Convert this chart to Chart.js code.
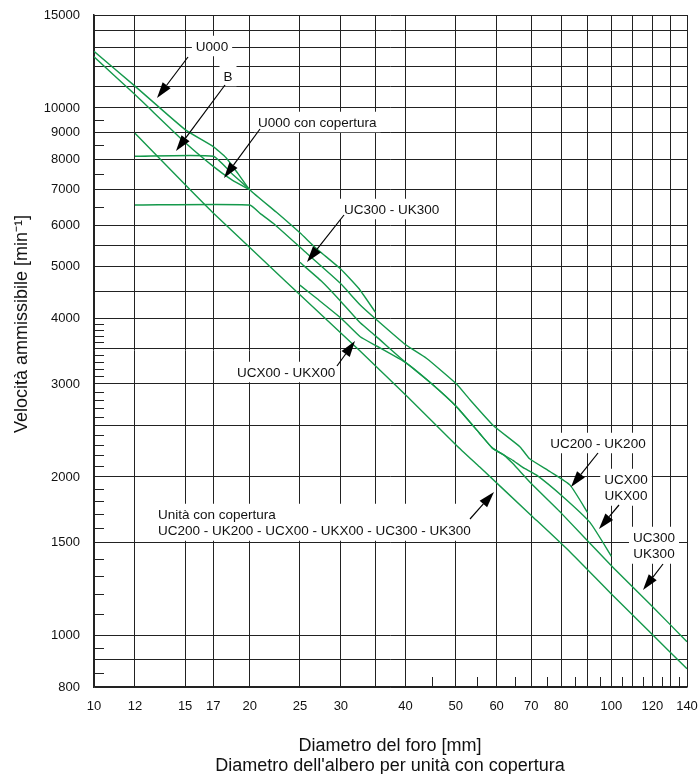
<!DOCTYPE html>
<html><head><meta charset="utf-8">
<script src="https://cdn.jsdelivr.net/npm/chart.js@4.4.0/dist/chart.umd.min.js"></script>
<style>html,body{margin:0;padding:0;background:#fff}</style>
</head><body>
<canvas id="c" width="699" height="774"></canvas>
<script>
// ---- axis ticks ----
const xLabeled = [10,12,15,17,20,25,30,40,50,60,70,80,100,120,140];
const xGrid = [10,12,15,17,20,25,30,35,40,50,60,70,80,90,100,110,120,130,140];
const xMinor = [45,55,65,75,85,95,105,115,125,135];
const yLabeled = [800,1000,1500,2000,3000,4000,5000,6000,7000,8000,9000,10000,15000];
const yGrid = [800,900,1000,1500,2000,2500,3000,3500,4000,4500,5000,5500,6000,7000,8000,9000,10000,11000,12000,13000,14000,15000];
const yMinor = [850,950,1100,1200,1300,1400,1600,1700,1800,1900,2100,2200,2300,2400,2600,2700,2800,2900,3100,3200,3300,3400,3600,3700,3800,3900,6500,7500,8500,9500];

// ---- series (diameter mm, speed min^-1) ----
const u000X = [10,12,15,17,18,19,20,22.5,25,27,30,32.5,35];
const u000Y = [12800,11000,9100,8450,8050,7500,7000,6350,5800,5400,4950,4550,4100];
const bX = [10,12,15,17,18.5,20];
const bY = [12500,10600,8600,7750,7300,7000];
const u000CopX = [12,17,18.5,20];
const u000CopY = [8100,8100,7500,7000];
const uc200X = [12,20,21,22.2,25.8,29.9,32.7,35.2,40.1,43.9,50.2,53.3,59.2,66.6,69.4,76.2,83.2,90];
const uc200Y = [6550,6550,6300,6047,5300,4658,4234,3967,3555,3356,3000,2800,2500,2280,2168,2046,1930,1711];
const uc300X = [25,27.5,30,32.7,35,40.1,45,50.2,55.6,58.9,62,64.5,70,80,100,120,140];
const uc300Y = [5100,4700,4300,3917,3700,3290,3000,2717,2420,2268,2200,2120,1943,1708,1357,1136,975];
const ucxX = [25,27,30,32.7,35,40.1,45,50.2,55.6,58.9,62,64.5,67.4,71.7,80.6,90.9,100];
const ucxY = [4618,4350,4000,3686,3550,3290,3000,2717,2420,2268,2200,2150,2085,2016,1835,1640,1415];
const covX = [12,17,32.6,40.4,50.2,55.6,70,83.3,100,120,140];
const covY = [8955,6325,3470,2835,2295,2090,1691,1440,1200,1006,866];

const green = '#14994b';
function pts(xs, ys){ return xs.map((x,i)=>({x:x, y:ys[i]})); }
function ds(label, xs, ys){
  return {label, data: pts(xs,ys), showLine:true, borderColor:green, borderWidth:1.4,
          pointRadius:0, tension:0.15, fill:false};
}

// ---- annotations (pixel positions on the 699x774 page) ----
const FONT = '13.5px "Liberation Sans", Arial, sans-serif';
const labels = [
  {lines:['U000'], x:212, y:47, align:'center'},
  {lines:['B'], x:228, y:77, align:'center'},
  {lines:['U000 con copertura'], x:258, y:123, align:'left'},
  {lines:['UC300 - UK300'], x:344, y:210, align:'left'},
  {lines:['UCX00 - UKX00'], x:237, y:373, align:'left'},
  {lines:['Unità con copertura','UC200 - UK200 - UCX00 - UKX00 - UC300 - UK300'], x:158, y:515, align:'left'},
  {lines:['UC200 - UK200'], x:598, y:444, align:'center'},
  {lines:['UCX00','UKX00'], x:626, y:480, align:'center'},
  {lines:['UC300','UK300'], x:654, y:538, align:'center'}
];
const arrows = [
  [188,57,157,98],[225,85,176,151],[260,129,224,178],[344,215,307,262],
  [337,366,355,341],[470,519,494,492],[598,453,571,487],[619,505,599,529],[663,564,643,590]
];

const overlay = {
  id:'overlay',
  afterDatasetsDraw(chart){
    const ctx = chart.ctx, xs = chart.scales.x, ys = chart.scales.y, a = chart.chartArea;
    ctx.save();
    // minor ticks
    ctx.strokeStyle = '#222'; ctx.lineWidth = 1;
    yMinor.forEach(v=>{ const p = Math.round(ys.getPixelForValue(v))+0.5;
      ctx.beginPath(); ctx.moveTo(a.left, p); ctx.lineTo(a.left+10, p); ctx.stroke(); });
    xMinor.forEach(v=>{ const p = Math.round(xs.getPixelForValue(v))+0.5;
      ctx.beginPath(); ctx.moveTo(p, a.bottom); ctx.lineTo(p, a.bottom-10); ctx.stroke(); });
    // labels with white background
    ctx.font = FONT; ctx.textBaseline = 'middle';
    labels.forEach(l=>{
      const w = Math.max(...l.lines.map(t=>ctx.measureText(t).width));
      const lh = 16.5, h = lh*l.lines.length;
      const left = l.align==='center' ? l.x - w/2 : l.x;
      ctx.fillStyle = '#fff';
      ctx.fillRect(left-4, l.y - lh/2 - 3, w+8, h+4);
      ctx.fillStyle = '#111';
      ctx.textAlign = 'left';
      l.lines.forEach((t,i)=>{
        const tw = ctx.measureText(t).width;
        const tx = l.align==='center' ? l.x - tw/2 : l.x;
        ctx.fillText(t, tx, l.y + i*lh);
      });
    });
    // arrows
    ctx.strokeStyle = '#000'; ctx.fillStyle = '#000'; ctx.lineWidth = 1.2;
    arrows.forEach(([x1,y1,x2,y2])=>{
      const ang = Math.atan2(y2-y1, x2-x1), L = 16, W = 5;
      const bx = x2 - L*Math.cos(ang), by = y2 - L*Math.sin(ang);
      ctx.beginPath(); ctx.moveTo(x1,y1); ctx.lineTo(bx,by); ctx.stroke();
      ctx.beginPath(); ctx.moveTo(x2,y2);
      ctx.lineTo(bx + W*Math.sin(ang), by - W*Math.cos(ang));
      ctx.lineTo(bx - W*Math.sin(ang), by + W*Math.cos(ang));
      ctx.closePath(); ctx.fill();
    });
    ctx.restore();
  },
  afterDraw(chart){
    const ctx = chart.ctx;
    ctx.save();
    ctx.fillStyle = '#111';
    ctx.font = '18px "Liberation Sans", Arial, sans-serif';
    ctx.textAlign = 'center'; ctx.textBaseline = 'middle';
    ctx.fillText('Diametro del foro [mm]', 390, 746);
    ctx.fillText("Diametro dell'albero per unità con copertura", 390, 766);
    ctx.translate(22, 324); ctx.rotate(-Math.PI/2);
    ctx.fillText('Velocità ammissibile [min⁻¹]', 0, 0);
    ctx.restore();
  }
};

new Chart(document.getElementById('c'), {
  type:'scatter',
  data:{ datasets:[
    ds('U000', u000X, u000Y),
    ds('B', bX, bY),
    ds('U000 con copertura', u000CopX, u000CopY),
    ds('UC200 - UK200', uc200X, uc200Y),
    ds('UC300 - UK300', uc300X, uc300Y),
    ds('UCX00 - UKX00', ucxX, ucxY),
    ds('Unità con copertura', covX, covY)
  ]},
  options:{
    responsive:false, animation:false, devicePixelRatio:1,
    layout:{padding:{left:0, right:12, top:15, bottom:0}},
    plugins:{legend:{display:false}, tooltip:{enabled:false}},
    scales:{
      x:{ type:'logarithmic', min:10, max:140,
          afterBuildTicks: s => { s.ticks = xGrid.map(v=>({value:v})); },
          afterFit: s => { s.height = 87; s.paddingLeft = 0; s.paddingRight = 0; },
          ticks:{ autoSkip:false, maxRotation:0, padding:12, color:'#111',
                  font:{family:'"Liberation Sans", Arial, sans-serif', size:13},
                  callback: v => xLabeled.includes(v) ? String(v) : '' },
          grid:{ color:'#222', lineWidth:1, drawTicks:false },
          border:{ color:'#222', width:1.5 } },
      y:{ type:'logarithmic', min:800, max:15000,
          afterBuildTicks: s => { s.ticks = yGrid.map(v=>({value:v})); },
          afterFit: s => { s.width = 94; s.paddingTop = 0; s.paddingBottom = 0; },
          ticks:{ autoSkip:false, padding:14, color:'#111',
                  font:{family:'"Liberation Sans", Arial, sans-serif', size:13},
                  callback: v => yLabeled.includes(v) ? String(v) : '' },
          grid:{ color:'#222', lineWidth:1, drawTicks:false },
          border:{ color:'#222', width:1.5 } }
    }
  },
  plugins:[overlay]
});
</script>
</body></html>
